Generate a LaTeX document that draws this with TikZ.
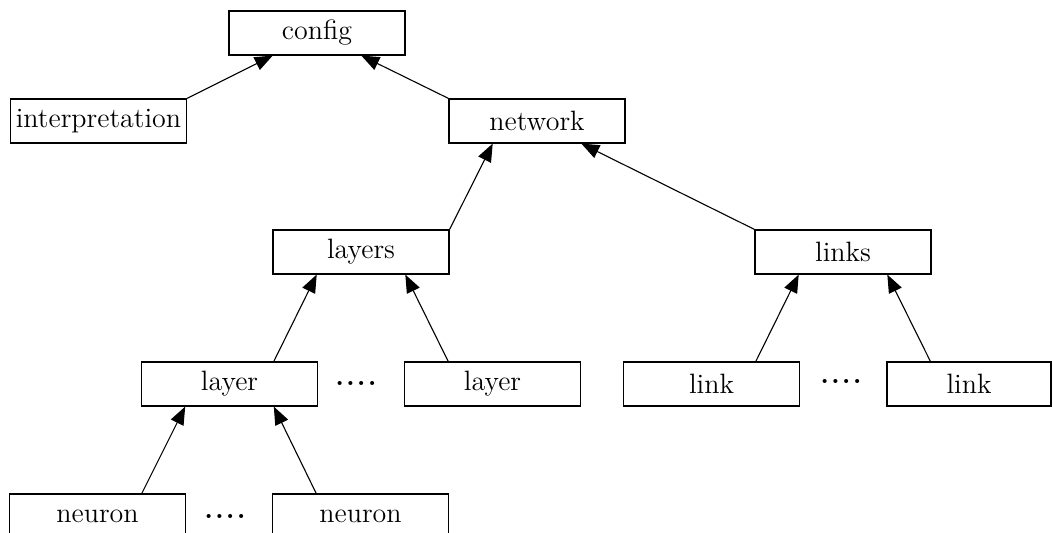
\documentclass[tikz,border=0pt]{standalone}
\usetikzlibrary{arrows.meta,calc}
\begin{document}
\begin{tikzpicture}[x=0.5pt,y=-0.5pt,
  box/.style={draw,line width=0.6pt,minimum width=88pt,minimum height=22pt,inner sep=0pt,font=\fontsize{14}{17}\selectfont},
  edge/.style={line width=0.55pt,-{Triangle[length=9pt,width=7pt]}},
  dots/.style={inner sep=0pt,font=\fontsize{14}{17}\selectfont\bfseries}]
\clip (0,0) rectangle (1053,533);
\node[box] (config) at (317,33) {config};
\node[box] (interp) at (98.5,121) {interpretation};
\node[box] (network) at (537,121) {network};
\node[box] (layers) at (361,252) {layers};
\node[box] (links) at (843,252) {links};
\node[box] (layerL) at (229.5,384) {layer};
\node[box] (layerR) at (492.5,384) {layer};
\node[box] (linkL) at (711.5,384) {link};
\node[box,minimum width=82pt] (linkR) at (969,384) {link};
\node[box] (neuronL) at (97.5,516) {neuron};
\node[box] (neuronR) at (360.5,516) {neuron};
\node[dots] (d1) at (356,383) {.\kern1pt.\kern1pt.\kern1pt.};
\node[dots] (d2) at (841,381) {.\kern1pt.\kern1pt.\kern1pt.};
\node[dots] (d3) at (225,516) {.\kern1pt.\kern1pt.\kern1pt.};
\draw[edge] (interp.north east) -- ($(config.south west)!0.25!(config.south east)$);
\draw[edge] (network.north west) -- ($(config.south west)!0.75!(config.south east)$);
\draw[edge] (layers.north east) -- ($(network.south west)!0.25!(network.south east)$);
\draw[edge] (links.north west) -- ($(network.south west)!0.75!(network.south east)$);
\draw[edge] ($(layerL.north west)!0.75!(layerL.north east)$) -- ($(layers.south west)!0.25!(layers.south east)$);
\draw[edge] ($(layerR.north west)!0.25!(layerR.north east)$) -- ($(layers.south west)!0.75!(layers.south east)$);
\draw[edge] ($(linkL.north west)!0.75!(linkL.north east)$) -- ($(links.south west)!0.25!(links.south east)$);
\draw[edge] ($(linkR.north west)+(44,0)$) -- ($(links.south west)!0.75!(links.south east)$);
\draw[edge] ($(neuronL.north west)!0.75!(neuronL.north east)$) -- ($(layerL.south west)!0.25!(layerL.south east)$);
\draw[edge] ($(neuronR.north west)!0.25!(neuronR.north east)$) -- ($(layerL.south west)!0.75!(layerL.south east)$);
\end{tikzpicture}
\end{document}
